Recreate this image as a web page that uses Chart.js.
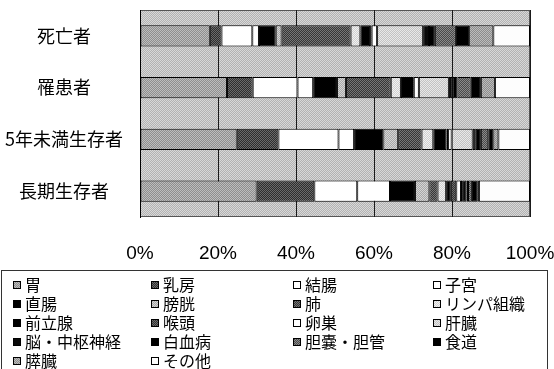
<!DOCTYPE html>
<html>
<head>
<meta charset="utf-8">
<script src="https://cdn.jsdelivr.net/npm/chart.js@4.4.1/dist/chart.umd.min.js"></script>
<style>
  html, body { margin: 0; padding: 0; background: #ffffff; }
  #wrap { width: 554px; height: 369px; }
</style>
</head>
<body>
<div id="wrap"><canvas id="c" width="554" height="369"></canvas></div>
<script>
// Cancer site shares (%) for each group
const categories = ['死亡者', '罹患者', '5年未満生存者', '長期生存者'];
const sites = ['胃', '乳房', '結腸', '子宮', '直腸', '膀胱', '肺', 'リンパ組織', '前立腺',
               '喉頭', '卵巣', '肝臓', '脳・中枢神経', '白血病', '胆嚢・胆管', '食道', '膵臓', 'その他'];

const deaths          = [17.9, 3.0,  7.9, 1.7, 4.3, 1.5, 17.7, 2.5, 2.5, 0.4, 1.4, 11.8, 1.5, 1.5, 5.4, 3.4, 6.2, 9.4];
const incidence       = [22.3, 6.6, 11.5, 4.0, 6.1, 2.3, 11.5, 2.6, 3.1, 0.2, 1.3,  7.7, 0.9, 1.3, 3.4, 2.6, 3.6, 9.0];
const survivorsUnder5 = [24.8, 10.7, 15.4, 4.0, 7.5, 3.8, 6.0, 3.0, 3.4, 0.4, 0.9,  5.4, 0.8, 1.3, 1.9, 1.3, 1.3, 8.1];
const survivorsLong   = [29.9, 14.8, 11.0, 8.4, 6.4, 3.7, 2.1, 2.2, 1.2, 1.4, 1.2,  0.3, 1.1, 0.4, 1.0, 1.5, 0.3, 13.1];

const tickStep = 20;

// Halftone-like fills built from a 2x2 checker of two greys
function dither(a, b) {
  const c = document.createElement('canvas');
  c.width = 2; c.height = 2;
  const g = c.getContext('2d');
  g.fillStyle = a; g.fillRect(0, 0, 2, 2);
  g.fillStyle = b; g.fillRect(0, 0, 1, 1); g.fillRect(1, 1, 1, 1);
  return g.createPattern(c, 'repeat');
}

const fills = [
  dither('#8e8e8e', '#bdbdbd'), // 胃
  dither('#2e2e2e', '#6a6a6a'), // 乳房
  '#ffffff',                    // 結腸
  '#ffffff',                    // 子宮
  '#000000',                    // 直腸
  dither('#a8a8a8', '#d6d6d6'), // 膀胱
  dither('#363636', '#767676'), // 肺
  dither('#cfcfcf', '#f2f2f2'), // リンパ組織
  '#000000',                    // 前立腺
  dither('#333333', '#6e6e6e'), // 喉頭
  '#ffffff',                    // 卵巣
  dither('#c2c2c2', '#e8e8e8'), // 肝臓
  '#0a0a0a',                    // 脳・中枢神経
  '#000000',                    // 白血病
  dither('#4a4a4a', '#8a8a8a'), // 胆嚢・胆管
  '#000000',                    // 食道
  dither('#8c8c8c', '#bcbcbc'), // 膵臓
  '#fdfdfd'                     // その他
];
const plotFill = dither('#b2b2b2', '#d8d8d8');

const rows = [deaths, incidence, survivorsUnder5, survivorsLong];
const datasets = sites.map((name, i) => ({
  label: name,
  data: rows.map(r => r[i]),
  backgroundColor: fills[i],
  borderColor: '#000000',
  borderWidth: 1,
  borderSkipped: false,
  categoryPercentage: 1.0,
  barPercentage: 0.41
}));

const JP = "'Noto Sans CJK JP', sans-serif";

// Grey stippled plot area with a thin frame
const plotBackground = {
  id: 'plotBackground',
  beforeDraw(chart) {
    const { ctx, chartArea: a } = chart;
    ctx.save();
    ctx.fillStyle = plotFill;
    ctx.fillRect(a.left, a.top, a.right - a.left, a.bottom - a.top);
    ctx.strokeStyle = '#555555';
    ctx.lineWidth = 1;
    ctx.strokeRect(a.left + 0.5, a.top + 0.5, a.right - a.left - 1, a.bottom - a.top - 1);
    ctx.restore();
  }
};

// Boxed legend laid out in four columns, filled row by row
const gridLegend = {
  id: 'gridLegend',
  afterDraw(chart) {
    const { ctx } = chart;
    const colX = [13, 151, 293, 433];
    const rowY = [285, 304, 323, 342, 361];
    ctx.save();
    ctx.strokeStyle = '#333333';
    ctx.lineWidth = 1;
    ctx.strokeRect(1.5, 270.5, 546, 120);
    ctx.font = '16px ' + JP;
    ctx.textBaseline = 'middle';
    ctx.textAlign = 'left';
    chart.data.datasets.forEach((ds, i) => {
      const x = colX[i % 4];
      const y = rowY[Math.floor(i / 4)];
      ctx.fillStyle = ds.backgroundColor;
      ctx.fillRect(x, y - 4, 8, 8);
      ctx.strokeStyle = '#000000';
      ctx.strokeRect(x + 0.5, y - 3.5, 7, 7);
      ctx.fillStyle = '#000000';
      ctx.fillText(ds.label, x + 12, y);
    });
    ctx.restore();
  }
};

new Chart(document.getElementById('c'), {
  type: 'bar',
  data: { labels: categories, datasets },
  options: {
    indexAxis: 'y',
    responsive: false,
    devicePixelRatio: 1,
    animation: false,
    layout: { padding: { top: 10, right: 24, bottom: 107, left: 0 } },
    plugins: { legend: { display: false }, tooltip: { enabled: false } },
    scales: {
      x: {
        stacked: true,
        min: 0,
        max: 100,
        ticks: {
          stepSize: tickStep,
          callback: v => v + '%',
          padding: 25,
          color: '#000000',
          maxRotation: 0,
          font: { family: "'Liberation Sans', Arial, sans-serif", size: 19 }
        },
        grid: { color: '#1a1a1a', lineWidth: 1, drawTicks: false },
        border: { display: false },
        afterFit(s) { s.height = 45; s.paddingLeft = 0; s.paddingRight = 0; }
      },
      y: {
        stacked: true,
        ticks: {
          crossAlign: 'center',
          padding: 17,
          color: '#000000',
          font: { family: JP, size: 18 }
        },
        grid: { display: false, drawTicks: false },
        border: { color: '#000000', width: 1 },
        afterFit(s) { s.width = 140; s.paddingTop = 0; s.paddingBottom = 0; }
      }
    }
  },
  plugins: [plotBackground, gridLegend]
});
</script>
</body>
</html>
